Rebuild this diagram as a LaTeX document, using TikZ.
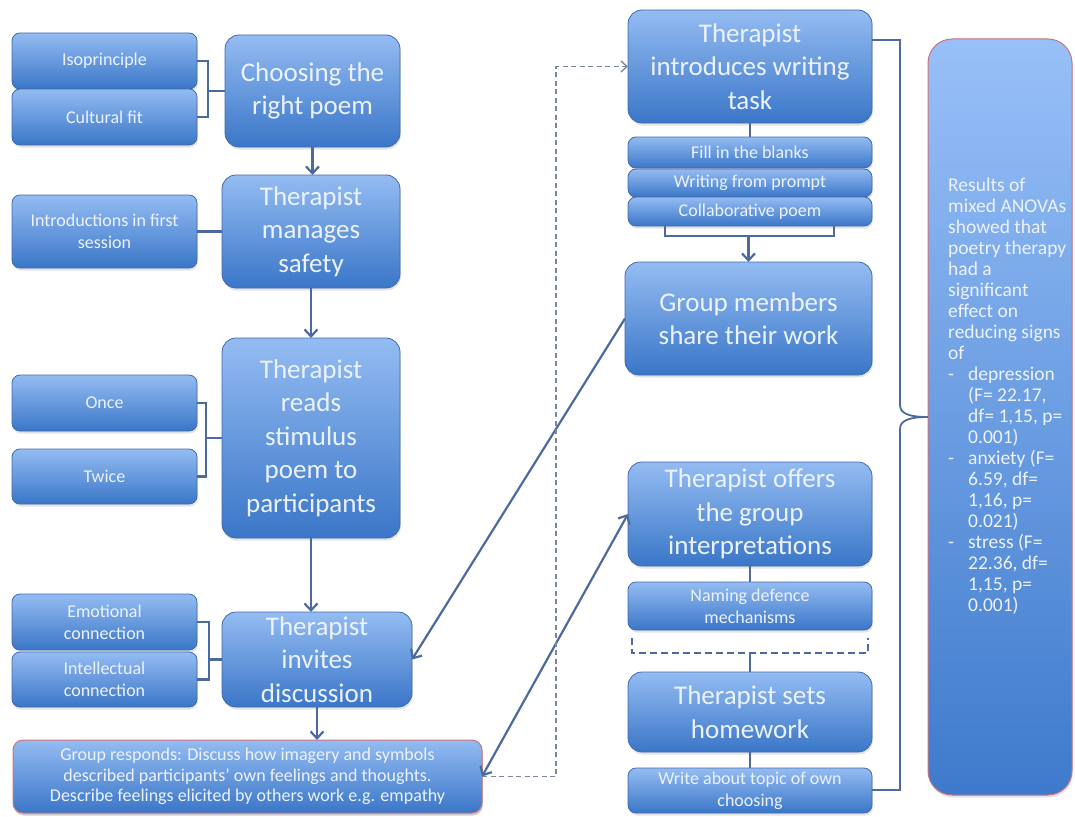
\documentclass[tikz,border=0pt]{standalone}
\usepackage{fontspec}
\setmainfont{Carlito}
\usetikzlibrary{arrows.meta,shadows,calc}

\definecolor{boxtop}{RGB}{148,188,242}
\definecolor{boxbot}{RGB}{58,118,200}
\definecolor{boxedge}{RGB}{66,106,170}
\definecolor{redge}{RGB}{205,115,125}
\definecolor{boxtext}{RGB}{236,242,252}
\definecolor{linkc}{RGB}{76,106,158}
\definecolor{dashc}{RGB}{125,135,155}

% box from its corner coordinates: name, x1, y1, x2, y2, style, text
\newcommand{\mkbox}[7]{%
  \pgfmathsetmacro{\mkW}{#4-#2}%
  \pgfmathsetmacro{\mkH}{#5-#3}%
  \pgfmathsetmacro{\mkX}{(#2+#4)/2}%
  \pgfmathsetmacro{\mkY}{(#3+#5)/2}%
  \node[#6, minimum width=\mkW pt, minimum height=\mkH pt] (#1) at (\mkX,\mkY) {#7};%
}
\newcommand{\ditem}{\makebox[20pt][l]{-}}
\newcommand{\dind}{\hspace*{20pt}}

\tikzset{
  basebox/.style={draw=boxedge, line width=0.8pt, top color=boxtop, bottom color=boxbot,
    text=boxtext, align=center, inner sep=0pt, outer sep=0pt,
    drop shadow={opacity=0.22, shadow xshift=0.8pt, shadow yshift=-2.5pt}},
  mainbox/.style={basebox, rounded corners=14pt, font=\fontsize{27}{33.5}\selectfont},
  subbox/.style={basebox, rounded corners=8pt, font=\fontsize{18}{22}\selectfont},
  redbox/.style={basebox, draw=redge, line width=1pt},
  conn/.style={draw=linkc, line width=2.2pt},
  arr/.style={conn, -{Straight Barb[length=7pt,width=13pt]}},
  arrboth/.style={conn, {Straight Barb[length=7pt,width=13pt]}-{Straight Barb[length=7pt,width=13pt]}},
  dashlink/.style={draw=dashc, line width=1.4pt, dash pattern=on 5pt off 3.5pt, -{Straight Barb[length=6pt,width=11pt]}},
  dashbrk/.style={draw=linkc, line width=2.4pt, dash pattern=on 7pt off 4pt},
  restext/.style={text=boxtext, align=left, inner sep=0pt, font=\fontsize{19.5}{21}\selectfont},
}

\begin{document}
\begin{tikzpicture}[x=1pt,y=-1pt]
\useasboundingbox (0,0) rectangle (1075,816);

% ---- left column: main steps ----
\mkbox{choose}{225}{35}{400}{147}{mainbox}{Choosing the\\right poem}
\mkbox{manages}{222}{175}{400}{288}{mainbox}{Therapist\\manages\\safety}
\mkbox{reads}{222}{338}{400}{538}{mainbox}{Therapist\\reads\\stimulus\\poem to\\participants}
\mkbox{invites}{222}{612}{412}{707}{mainbox}{Therapist\\invites\\discussion}

% ---- left column: details ----
\mkbox{iso}{12}{33}{197}{89}{subbox}{Isoprinciple}
\mkbox{cult}{12}{89}{197}{145}{subbox}{Cultural fit}
\mkbox{intro}{12}{195}{197}{268}{subbox}{Introductions in first\\session}
\mkbox{once}{12}{375}{197}{431}{subbox}{Once}
\mkbox{twice}{12}{449}{197}{504}{subbox}{Twice}
\mkbox{emo}{12}{594}{197}{650}{subbox}{Emotional\\connection}
\mkbox{intel}{12}{652}{197}{707}{subbox}{Intellectual\\connection}
\mkbox{responds}{13}{740}{482}{813}{subbox, redbox, rounded corners=10pt, font=\fontsize{18}{20.5}\selectfont}{Group responds: Discuss how imagery and symbols\\described participants’ own feelings and thoughts.\\Describe feelings elicited by others work e.g. empathy}

% ---- right column ----
\mkbox{introw}{628}{10}{872}{123}{mainbox}{Therapist\\introduces writing\\task}
\mkbox{fill}{628}{137}{872}{168}{subbox}{Fill in the blanks}
\mkbox{prompt}{628}{169}{872}{197}{subbox}{Writing from prompt}
\mkbox{collab}{628}{197}{872}{226}{subbox}{Collaborative poem}
\mkbox{members}{625}{262}{872}{375}{mainbox}{Group members\\share their work}
\mkbox{offers}{628}{462}{872}{566}{mainbox}{Therapist offers\\the group\\interpretations}
\mkbox{naming}{628}{582}{872}{630}{subbox}{Naming defence\\mechanisms}
\mkbox{homework}{628}{672}{872}{752}{mainbox}{Therapist sets\\homework}
\mkbox{write}{628}{768}{872}{813}{subbox}{Write about topic of own\\choosing}

% ---- results panel ----
\mkbox{results}{928}{39}{1072}{795}{basebox, draw=redge, line width=1pt, rounded corners=24pt,
  top color={rgb,255:red,152;green,192;blue,248}, bottom color={rgb,255:red,62;green,122;blue,204}}{}
\node[restext, anchor=north west] (rtext) at (948,178) {%
Results of\\
mixed ANOVAs\\
showed that\\
poetry therapy\\
had a\\
significant\\
effect on\\
reducing signs\\
of\\
\ditem depression\\
\dind(F= 22.17,\\
\dind df= 1,15, p=\\
\dind 0.001)\\
\ditem anxiety (F=\\
\dind 6.59, df=\\
\dind 1,16, p=\\
\dind 0.021)\\
\ditem stress (F=\\
\dind 22.36, df=\\
\dind 1,15, p=\\
\dind 0.001)};

% ---- brackets joining details to their steps ----
\draw[conn] (iso.east) -- ++(11,0) coordinate (b1) |- (cult.east);
\draw[conn] (b1 |- choose.west) -- (choose.west);
\draw[conn] (intro.east) -- (intro.east -| manages.west);
\draw[conn] (once.east) -- ++(9,0) coordinate (b2) |- (twice.east);
\draw[conn] (b2 |- reads.west) -- (reads.west);
\draw[conn] (emo.east) -- ++(12,0) coordinate (b3) |- (intel.east);
\draw[conn] (b3 |- invites.west) -- (invites.west);

% ---- main flow, left column ----
\draw[arr] (choose.south) -- (choose.south |- manages.north);
\draw[arr] (manages.south) -- (manages.south |- reads.north);
\draw[arr] (reads.south) -- (reads.south |- invites.north);
\draw[arr] (invites.south) -- (invites.south |- responds.north);

% ---- links between the columns ----
\draw[arr] (members.west) -- (invites.east);
\draw[arrboth] (responds.east) -- (offers.west);
\draw[dashlink] (responds.east) -- ++(74,0) |- (introw.west);

% ---- right column flow ----
\draw[conn] (introw.south) -- (fill.north);
\draw[conn] ([xshift=-85pt]collab.south) -- ++(0,10) coordinate (c1) -| ([xshift=84pt]collab.south);
\draw[arr] (c1 -| members.north) -- (members.north);
\draw[conn] (offers.south) -- (naming.north);
\draw[dashbrk] ([xshift=-118pt,yshift=-8pt]naming.south) -- ++(0,15) coordinate (d1) -| ([xshift=118pt,yshift=-8pt]naming.south);
\draw[conn] (d1 -| homework.north) -- (homework.north);
\draw[conn] (homework.south) -- (write.north);

% ---- brace gathering the right column into the results ----
\coordinate (btop) at (introw.east |- 0,40);
\coordinate (bbot) at (write.east |- 0,790);
\draw[conn, line width=1.8pt] (btop) -- ++(28,0) coordinate (bx) -- (bx |- 0,405)
  .. controls +(0,9) and +(-18,0) .. (results.west)
  .. controls +(-18,0) and +(0,-9) .. (bx |- 0,429) -- (bx |- bbot) -- (bbot);
\end{tikzpicture}
\end{document}
